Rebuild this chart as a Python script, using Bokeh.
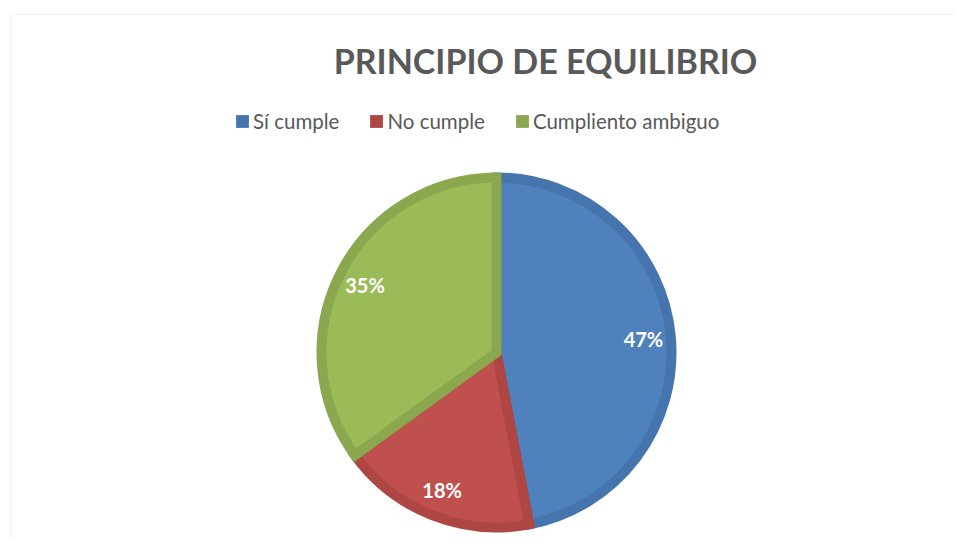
import math
from bokeh.plotting import figure
from bokeh.models import Range1d, BoxAnnotation, Legend, LegendItem, ColumnDataSource, Label
from bokeh.core.properties import value
from bokeh.embed import file_html
from bokeh.resources import INLINE

title = "PRINCIPIO DE EQUILIBRIO"
categories = ["Sí cumple", "No cumple", "Cumpliento ambiguo"]
values = [47, 18, 35]
fill_colors = ["#4F81BD", "#C0504D", "#9BBB59"]
edge_colors = ["#4674AC", "#AE4744", "#8CA84F"]

W, H = 954, 540
p = figure(width=W, height=H, output_backend="svg", toolbar_location=None,
           x_range=Range1d(0, W), y_range=Range1d(0, H), min_border=0,
           background_fill_color="white", border_fill_color="white")
p.axis.visible = False
p.xgrid.visible = False
p.ygrid.visible = False
p.outline_line_color = None

# chart area border (cropped on right/bottom as in reference)
p.add_layout(BoxAnnotation(left=10, right=W + 50, top=526, bottom=-50,
                           fill_alpha=0, line_color="#D9D9D9", line_width=1.5))

cx, cy, R = 496, 188, 180
bw = 10
total = sum(values)
starts, ends, mids = [], [], []
acc = 0
for v in values:
    a0 = math.pi / 2 - 2 * math.pi * acc / total
    acc += v
    a1 = math.pi / 2 - 2 * math.pi * acc / total
    starts.append(a0)
    ends.append(a1)
    mids.append((a0 + a1) / 2)

for i in range(len(values)):
    p.wedge(x=[cx], y=[cy], radius=R - bw / 2, radius_units="screen",
            start_angle=[starts[i]], end_angle=[ends[i]], direction="clock",
            fill_color=fill_colors[i], line_color=edge_colors[i],
            line_width=bw, line_join="miter")

lr = 0.82 * R
src = ColumnDataSource(dict(
    x=[cx + lr * math.cos(m) for m in mids],
    y=[cy + lr * math.sin(m) for m in mids],
    t=[f"{round(100 * v / total)}%" for v in values]))
p.text(x="x", y="y", text="t", source=src, text_color="white",
       text_font=value("Lato"), text_font_style="bold", text_font_size="20px",
       text_align="center", text_baseline="middle")

p.add_layout(Label(x=545, y=480, text=title, text_font="Lato", text_font_style="bold",
                   text_font_size="34px", text_color="#595959",
                   text_align="center", text_baseline="middle"))

items = []
for c, col in zip(categories, edge_colors):
    # legend swatch renderers, kept outside the visible range
    r = p.quad(left=[-100], right=[-90], top=[-100], bottom=[-90], fill_color=col, line_color=None)
    items.append(LegendItem(label=c, renderers=[r]))
legend = Legend(items=items, orientation="horizontal", location=(234, 407),
                glyph_width=16, glyph_height=16, label_height=24,
                label_text_font="Lato", label_text_font_size="20.5px",
                label_text_color="#595959", label_standoff=3, spacing=29,
                padding=0, margin=0, border_line_color=None,
                background_fill_alpha=0)
p.add_layout(legend)

open("out.html", "w").write(file_html(p, INLINE))
